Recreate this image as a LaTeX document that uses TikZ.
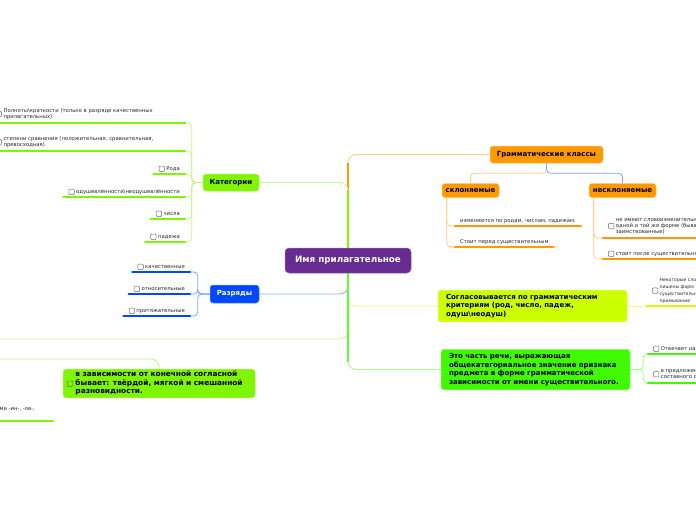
\documentclass[tikz,border=0pt]{standalone}
\usepackage{fontspec}
\setmainfont{DejaVu Sans}
\definecolor{rootpurple}{RGB}{102, 44, 145}
\definecolor{gramorange}{RGB}{255, 153, 0}
\definecolor{katgreen}{RGB}{128, 245, 0}
\definecolor{razrblue}{RGB}{0, 72, 255}
\definecolor{soglyellow}{RGB}{204, 255, 0}
\definecolor{chastgreen}{RGB}{64, 250, 0}
\definecolor{boxgray}{RGB}{110, 110, 110}
\usetikzlibrary{positioning, calc, backgrounds}
\newcommand{\chkbox}{\tikz[baseline=1.3pt]\draw[draw=boxgray, line width=0.5pt, rounded corners=1pt] (0pt,0pt) rectangle (5.5pt,5.5pt);}
\tikzset{
	rootbox/.style={rectangle, rounded corners=4pt, fill=rootpurple, draw=rootpurple!70!white, line width=0.5pt, text=white, minimum width=126pt, minimum height=25pt, font=\fontsize{8.8}{10}\selectfont\bfseries},
	topic/.style={rectangle, rounded corners=3pt, fill=#1, draw=#1!60!white, line width=0.5pt, inner sep=3pt, font=\fontsize{7}{8.6}\selectfont\bfseries},
	leaf/.style={inner xsep=5pt, inner ysep=2pt, text=black!85, font=\fontsize{5.3}{6.4}\selectfont},
	tinyleaf/.style={inner xsep=5pt, inner ysep=1pt, text=black!85, font=\fontsize{4.6}{7}\selectfont},
	uline/.style={line width=2.6pt, draw=#1, line cap=round},
	branch/.style={line width=0.9pt, draw=#1!45, rounded corners=8pt},
	trunk/.style={line width=2.2pt, draw=#1},
	sub/.style={line width=0.8pt, draw=#1!50, rounded corners=4pt},
}
\begin{document}
\begin{tikzpicture}[x=1pt, y=-1pt]
	\useasboundingbox (0,0) rectangle (696,520);
	\clip (0,0) rectangle (696,520);
	% main topics
	\node[rootbox] (root) at (348,260.5) {Имя прилагательное};
	\node[topic=gramorange, minimum width=113pt, minimum height=17pt] (gram) at (546.5,154.5) {Грамматические классы};
	\node[topic=gramorange, minimum width=57pt, minimum height=14pt] (skl) at (470.5,190.5) {склоняемые};
	\node[topic=gramorange, minimum width=67pt, minimum height=14pt] (neskl) at (622.5,190.5) {несклоняемые};
	\node[topic=katgreen, minimum width=56pt, minimum height=17pt] (kat) at (231,182.5) {Категории};
	\node[topic=razrblue, text=white, minimum width=49pt, minimum height=18pt] (razr) at (234.5,294) {Разряды};
	\node[topic=soglyellow, inner xsep=8pt, inner ysep=4pt, text width=173pt, align=left] (sogl) at (532.5,306) {Согласовывается по грамматическим критериям (род, число, падеж, одуш\textbackslash неодуш)};
	\node[topic=chastgreen, inner xsep=8pt, inner ysep=4pt, text width=173pt, align=left] (chast) at (535.5,369.5) {Это часть речи, выражающая общекатегориальное значение признака предмета в форме грамматической зависимости от имени существительного.};
	\node[topic=katgreen, inner xsep=4pt, inner ysep=2pt, text width=184pt, align=left, font=\fontsize{7.4}{8.2}\selectfont\bfseries] (zav) at (159,383.5) {\chkbox\ \begin{tabular}[c]{@{}l@{}}в зависимости от конечной согласной\\бывает: твёрдой, мягкой и смешанной\\разновидности.\end{tabular}};
	\coordinate (offl) at (-10,339);
	\coordinate (offz) at (-10,359);
	% Категории
	\node[leaf, anchor=south east, text width=184pt, align=left] (k1) at (185,123) {\chkbox\ \begin{tabular}[c]{@{}l@{}}Полноты\textbackslash краткости (только в разряде качественных\\прилагательных)\end{tabular}};
	\node[leaf, anchor=south east, text width=184pt, align=left] (k2) at (185,151) {\chkbox\ \begin{tabular}[c]{@{}l@{}}степени сравнения (положительная, сравнительная,\\превосходная)\end{tabular}};
	\node[leaf, anchor=south east] (k3) at (185,174) {\chkbox\ Рода};
	\node[leaf, anchor=south east] (k4) at (185,197) {\chkbox\ одушевлённости\textbackslash неодушевлённости};
	\node[leaf, anchor=south east] (k5) at (185,219) {\chkbox\ числа};
	\node[leaf, anchor=south east] (k6) at (185,242) {\chkbox\ падежа};
	% Разряды
	\node[leaf, anchor=south east] (r1) at (190,272) {\chkbox\ качественные};
	\node[leaf, anchor=south east] (r2) at (190,294) {\chkbox\ относительные};
	\node[leaf, anchor=south east] (r3) at (190,316) {\chkbox\ притяжательные};
	% classes
	\node[leaf, anchor=south west] (s1) at (455,226) {изменяются по родам, числам, падежам.};
	\node[leaf, anchor=south west] (s2) at (455,247) {Стоит перед существительным};
	\node[leaf, anchor=south west] (n1) at (603,238) {\chkbox\ \begin{tabular}[c]{@{}l@{}}не имеют словоизменительных\\одной и той же форме (бывают\\заимствованные)\end{tabular}};
	\node[leaf, anchor=south west] (n2) at (603,259) {\chkbox\ стоит после существительного};
	\node[tinyleaf, anchor=south west] (g1) at (647,306) {\chkbox\ \begin{tabular}[c]{@{}l@{}}Некоторые слова\\лишены форм\\существительного\\примыкание\end{tabular}};
	\node[leaf, anchor=south west] (c1) at (648,354) {\chkbox\ Отвечает на вопросы};
	\node[leaf, anchor=south west] (c2) at (648,383) {\chkbox\ \begin{tabular}[c]{@{}l@{}}в предложении является частью\\составного сказуемого\end{tabular}};
	\node[leaf, anchor=south east, text depth=8pt] (zl) at (53,421) {с суффиксами -ин-, -ов-,\kern13pt};
	\begin{scope}[on background layer]
		\fill[white] (0,0) rectangle (696,520);
		\clip (0,0) rectangle (696,520);
		\draw[branch=gramorange] (root.center) |- (gram.west);
		\draw[trunk=gramorange, shorten >=8pt] (root.center) -- (root.center |- gram.west);
		\draw[branch=katgreen] (root.center) |- (kat.east);
		\draw[trunk=katgreen, shorten >=8pt] (root.center) -- (root.center |- kat.east);
		\draw[branch=razrblue] (root.center) |- (razr.east);
		\draw[branch=soglyellow] (root.center) |- (sogl.west);
		\draw[branch=katgreen] (root.center) |- (offl);
		\draw[trunk=chastgreen, shorten >=8pt] (root.center) -- (root.center |- chast.west);
		\draw[branch=chastgreen] (root.center) |- (chast.west);
		\draw[branch=katgreen] (offz) -| (zav.north);
		\foreach \c in {k1,k2,k3,k4,k5,k6}{\draw[sub=katgreen] (kat.west) -- ++(-11,0) |- (\c.south east);}
		\foreach \c in {r1,r2,r3}{\draw[sub=razrblue] (razr.west) -- ++(-12,0) |- (\c.south east);}
		\draw[sub=gramorange] (gram.south) -- ++(0,10) -| (skl.north);
		\draw[sub=razrblue] (gram.south) -- ++(0,10) -| (neskl.north);
		\foreach \c in {s1,s2}{\draw[sub=gramorange] ([xshift=5pt]skl.south west) |- (\c.south west);}
		\foreach \c in {n1,n2}{\draw[sub=gramorange] ([xshift=5pt]neskl.south west) |- (\c.south west);}
		\draw[sub=soglyellow] (sogl.east) -- (g1.south west);
		\foreach \c in {c1,c2}{\draw[sub=chastgreen] (chast.east) -- ++(13,0) |- (\c.south west);}
	\end{scope}
	% underlines
	\foreach \c in {k1,k2,k3,k4,k5,k6,zl}{\draw[uline=katgreen] (\c.south west) -- (\c.south east);}
	\foreach \c in {r1,r2,r3}{\draw[uline=razrblue] (\c.south west) -- (\c.south east);}
	\foreach \c in {s1,s2,n1,n2}{\draw[uline=gramorange] (\c.south west) -- (\c.south east);}
	\draw[uline=soglyellow] (g1.south west) -- (g1.south east);
	\foreach \c in {c1,c2}{\draw[uline=chastgreen] (\c.south west) -- (\c.south east);}
\end{tikzpicture}
\end{document}
